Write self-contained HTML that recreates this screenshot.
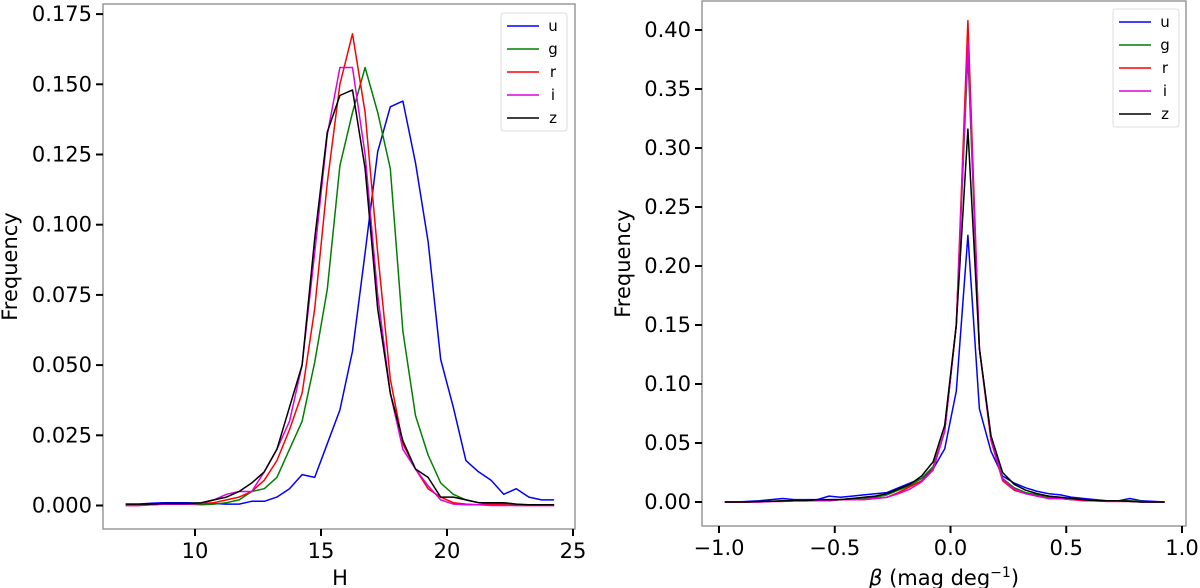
<!DOCTYPE html>
<html><head><meta charset="utf-8"><style>
body{margin:0;background:#fff}
svg{display:block;font-family:"DejaVu Sans","Liberation Sans",sans-serif}
</style></head><body>
<svg id="c" width="1200" height="588"></svg>
<script>
const hBins=[7.25,7.75,8.25,8.75,9.25,9.75,10.25,10.75,11.25,11.75,12.25,12.75,13.25,13.75,14.25,14.75,15.25,15.75,16.25,16.75,17.25,17.75,18.25,18.75,19.25,19.75,20.25,20.75,21.25,21.75,22.25,22.75,23.25,23.75,24.25];
const hU=[0.0005,0.0005,0.0008,0.001,0.001,0.001,0.0008,0.0007,0.0005,0.0005,0.0015,0.0015,0.003,0.006,0.011,0.010,0.022,0.034,0.055,0.090,0.126,0.142,0.144,0.122,0.094,0.052,0.035,0.016,0.012,0.009,0.004,0.006,0.003,0.002,0.002];
const hG=[0.0003,0.0003,0.0003,0.0005,0.0005,0.0005,0.0003,0.0005,0.001,0.002,0.005,0.006,0.010,0.020,0.030,0.051,0.077,0.121,0.140,0.156,0.140,0.120,0.062,0.032,0.018,0.008,0.004,0.002,0.001,0.0005,0.0005,0.0003,0.0003,0.0003,0.0003];
const hR=[0,0,0.0003,0.0005,0.0005,0.0005,0.0007,0.001,0.002,0.003,0.005,0.009,0.016,0.027,0.040,0.070,0.115,0.150,0.168,0.140,0.090,0.045,0.022,0.013,0.006,0.003,0.001,0.0005,0.0003,0.0003,0.0003,0,0,0,0];
const hI=[0,0,0.0003,0.0005,0.0005,0.0005,0.0008,0.002,0.004,0.005,0.005,0.012,0.020,0.030,0.050,0.090,0.132,0.156,0.156,0.125,0.075,0.040,0.020,0.013,0.007,0.002,0.0005,0.0003,0.0003,0,0,0,0,0,0];
const hZ=[0.0005,0.0005,0.0005,0.0007,0.0007,0.0007,0.001,0.002,0.003,0.005,0.008,0.012,0.020,0.035,0.050,0.095,0.133,0.146,0.148,0.120,0.070,0.040,0.023,0.013,0.010,0.003,0.003,0.002,0.001,0.001,0.001,0.0005,0.0003,0.0003,0.0003];
const hTicks=[10,15,20,25];
const hYTicks=[0,0.025,0.05,0.075,0.1,0.125,0.15,0.175];
const hYLabels=["0.000","0.025","0.050","0.075","0.100","0.125","0.150","0.175"];

const bBins=[-0.975,-0.925,-0.875,-0.825,-0.775,-0.725,-0.675,-0.625,-0.575,-0.525,-0.475,-0.425,-0.375,-0.325,-0.275,-0.225,-0.175,-0.125,-0.075,-0.025,0.025,0.075,0.125,0.175,0.225,0.275,0.325,0.375,0.425,0.475,0.525,0.575,0.625,0.675,0.725,0.775,0.825,0.875,0.925];
const bU=[0,0,0.0005,0.001,0.002,0.003,0.002,0.002,0.002,0.005,0.004,0.005,0.006,0.007,0.008,0.012,0.016,0.020,0.028,0.045,0.094,0.226,0.079,0.043,0.022,0.016,0.012,0.009,0.007,0.006,0.004,0.003,0.002,0.001,0.001,0.003,0.001,0.0005,0];
const bG=[0,0,0,0.0005,0.0005,0.001,0.001,0.001,0.001,0.002,0.002,0.003,0.003,0.004,0.006,0.010,0.014,0.020,0.030,0.060,0.150,0.380,0.130,0.055,0.020,0.012,0.008,0.006,0.004,0.003,0.002,0.002,0.001,0.001,0.001,0.001,0.0005,0,0];
const bR=[0,0,0,0,0.0005,0.0005,0.001,0.001,0.001,0.001,0.002,0.002,0.002,0.003,0.004,0.008,0.013,0.018,0.028,0.060,0.150,0.408,0.130,0.052,0.018,0.010,0.007,0.005,0.003,0.003,0.002,0.001,0.001,0.0005,0.0005,0.0005,0,0,0];
const bI=[0,0,0,0,0.0005,0.0005,0.001,0.001,0.001,0.001,0.002,0.002,0.002,0.003,0.004,0.007,0.011,0.017,0.027,0.060,0.150,0.390,0.130,0.053,0.019,0.011,0.007,0.005,0.003,0.003,0.002,0.002,0.001,0.0005,0.0005,0.0005,0,0,0];
const bZ=[0,0,0,0.0005,0.0005,0.001,0.001,0.001,0.002,0.002,0.002,0.003,0.004,0.005,0.007,0.011,0.015,0.022,0.034,0.065,0.150,0.316,0.130,0.056,0.025,0.015,0.010,0.007,0.005,0.004,0.003,0.002,0.001,0.001,0.001,0.0005,0,0,0];
const bTicks=[-1,-0.5,0,0.5,1];
const bTickLabels=["\u22121.0","\u22120.5","0.0","0.5","1.0"];
const bYTicks=[0,0.05,0.1,0.15,0.2,0.25,0.3,0.35,0.4];
const bYLabels=["0.00","0.05","0.10","0.15","0.20","0.25","0.30","0.35","0.40"];
const colors=["#0000ff","#008000","#ff0000","#e000e0","#000000"];
const names=["u","g","r","i","z"];

const NS="http://www.w3.org/2000/svg";
const svg=document.getElementById('c');
function mk(tag,attrs,parent){const e=document.createElementNS(NS,tag);for(const k in attrs)e.setAttribute(k,attrs[k]);(parent||svg).appendChild(e);return e;}

function panel(p){
  const g=mk('g',{});
  
  
  const sx=v=>p.x0px+(v-p.xa)*(p.x1px-p.x0px)/(p.xb-p.xa);
  const sy=v=>p.y0px-(v-p.ya)*(p.y0px-p.y1px)/(p.yb-p.ya);
  const f=mk('rect',{x:p.L,y:p.T,width:p.R-p.L,height:p.B-p.T,fill:'none',stroke:'#999','stroke-width':1.5},g);
  
  
  p.xt.forEach((t,i)=>{
    mk('line',{x1:sx(t),x2:sx(t),y1:p.B,y2:p.B+7,stroke:'#000','stroke-width':2},g);
    const tx=mk('text',{x:sx(t),y:p.B+29,'text-anchor':'middle','font-size':21},g);
    tx.textContent=p.xl[i];
    
    
  });
  p.yt.forEach((t,i)=>{
    mk('line',{x1:p.L-7,x2:p.L,y1:sy(t),y2:sy(t),stroke:'#000','stroke-width':2},g);
    const tx=mk('text',{x:p.L-11,y:sy(t)+7,'text-anchor':'end','font-size':21},g);
    tx.textContent=p.yl[i];
    
    
  });
  p.series.forEach((s,k)=>{
    const d=p.bins.map((b,i)=>(i?'L':'M')+sx(b).toFixed(1)+','+sy(s[i]).toFixed(1)).join('');
    const path=mk('path',{d:d,fill:'none',stroke:colors[k],'stroke-width':1.5,'stroke-linejoin':'round'},g);
    
    
  });
  const xl=mk('text',{x:p.xlabX,y:585,'text-anchor':'middle','font-size':21},g);
  xl.innerHTML=p.xlab;
  
  
  const yl=mk('text',{x:0,y:0,'text-anchor':'middle','font-size':21,transform:`translate(${p.ylabX},${(p.T+p.B)/2}) rotate(-90)`},g);
  yl.textContent='Frequency';
  
  
  const lg=mk('g',{},g);
  
  
  mk('rect',{x:p.lgX,y:p.lgY,width:66,height:118,rx:3,fill:'#fff',stroke:'#ddd'},lg);
  names.forEach((n,k)=>{
    const y=p.lgY+13+k*23;
    const e=mk('g',{},lg);
    
    
    mk('line',{x1:p.lgX+6,x2:p.lgX+38,y1:y,y2:y,stroke:colors[k],'stroke-width':1.5},e);
    const t=mk('text',{x:p.lgX+52,y:y+5,'font-size':15,'text-anchor':'middle'},e);
    t.textContent=n;
  });
}
panel({id:'h',L:103,R:575,T:4,B:529,x0px:195,x1px:447,xa:10,xb:20,y0px:505.5,y1px:435.3,ya:0,yb:0.025,
  xt:hTicks,xl:hTicks.map(String),yt:hYTicks,yl:hYLabels,bins:hBins,series:[hU,hG,hR,hI,hZ],
  xlab:'H',xlabX:340,ylabX:17,lgX:501,lgY:13});
panel({id:'beta',L:702,R:1186,T:1,B:526,x0px:719,x1px:1182,xa:-1,xb:1,y0px:502,y1px:443,ya:0,yb:0.05,
  xt:bTicks,xl:bTickLabels,yt:bYTicks,yl:bYLabels,bins:bBins,series:[bU,bG,bR,bI,bZ],
  xlab:'<tspan font-style="italic">β</tspan> (mag deg<tspan dy="-8" font-size="14">−1</tspan><tspan dy="8">)</tspan>',xlabX:944,ylabX:630,lgX:1113,lgY:9});
</script>
</body></html>
